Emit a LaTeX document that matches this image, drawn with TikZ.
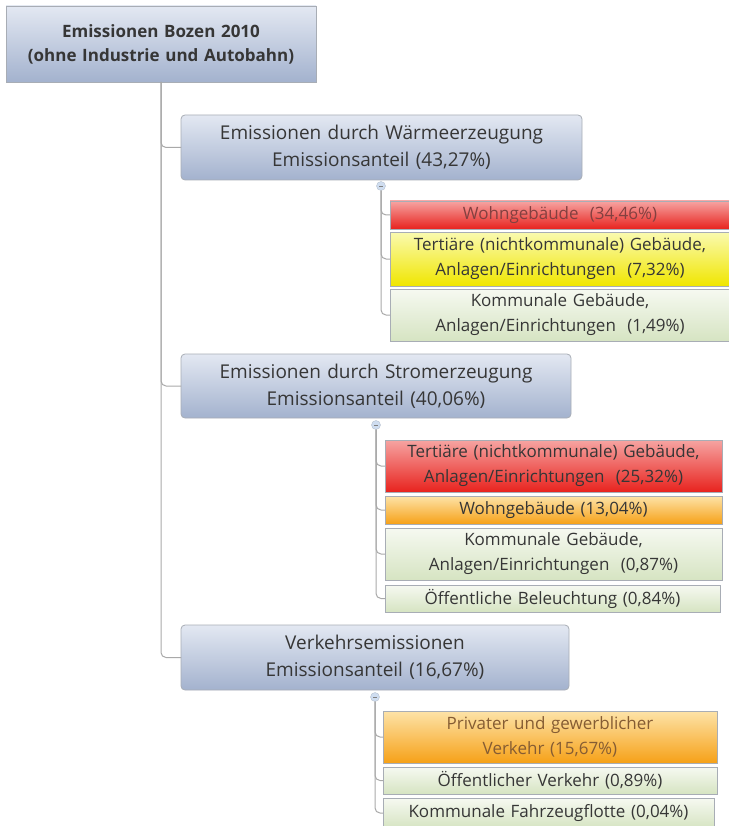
\documentclass[tikz,border=0pt]{standalone}
\usepackage{fontspec}
\setsansfont{Open Sans}
\usepackage{tikz}
\usetikzlibrary{positioning}
\definecolor{txt}{HTML}{363636}
\definecolor{boxline}{HTML}{A8ADB5}
\definecolor{linkgray}{HTML}{A9A9A9}
\definecolor{bluetop}{HTML}{E3E8F2}
\definecolor{bluebot}{HTML}{A3B2CE}
\definecolor{redtop}{HTML}{F6A4A2}
\definecolor{redbot}{HTML}{E8231E}
\definecolor{yeltop}{HTML}{FAFAB0}
\definecolor{yelbot}{HTML}{F0E600}
\definecolor{orgtop}{HTML}{FDE3A8}
\definecolor{orgbot}{HTML}{F6A118}
\definecolor{grntop}{HTML}{F6F9F1}
\definecolor{grnbot}{HTML}{D6E4C2}
\definecolor{foldblue}{HTML}{CFDDF0}
\tikzset{
  treebox/.style = {align=center, inner sep=0pt, outer sep=0pt,
    text=txt, draw=boxline, line width=0.8pt},
  rootbox/.style = {treebox, top color=bluetop, bottom color=bluebot,
    font=\sffamily\bfseries\fontsize{17}{24}\selectfont},
  mainbox/.style = {treebox, rounded corners=4pt, top color=bluetop,
    bottom color=bluebot, font=\sffamily\fontsize{19}{27}\selectfont},
  leaf/.style = {treebox, text width=340pt,
    font=\sffamily\fontsize{17}{25}\selectfont},
  redleaf/.style = {leaf, top color=redtop, bottom color=redbot},
  yelleaf/.style = {leaf, top color=yeltop, bottom color=yelbot},
  orgleaf/.style = {leaf, top color=orgtop, bottom color=orgbot},
  grnleaf/.style = {leaf, top color=grntop, bottom color=grnbot},
  link/.style = {draw=linkgray, line width=1pt, rounded corners=5pt},
  fold/.style = {circle, draw=foldblue!70!gray, fill=foldblue,
    minimum size=9pt, inner sep=0pt,
    path picture={\draw[gray, line width=0.6pt]
      ([xshift=-2pt]path picture bounding box.center) --
      ([xshift=2pt]path picture bounding box.center);}}
}
\begin{document}
\begin{tikzpicture}[x=1pt, y=-1pt]
\useasboundingbox (0,0) rectangle (728,826);
% root
\node [rootbox, anchor=north west, text width=310pt, minimum height=76pt]
  (root) at (6,6) {Emissionen Bozen 2010\\(ohne Industrie und Autobahn)};
\coordinate (trunk) at ([xshift=155pt]root.south west);
% first level
\node [mainbox, anchor=north west, text width=401pt, minimum height=65pt]
  (waerme) at (181,115) {Emissionen durch Wärmeerzeugung\\Emissionsanteil (43,27\%)};
\node [mainbox, anchor=north west, text width=390pt, minimum height=64pt]
  (strom) at (181,354) {Emissionen durch Stromerzeugung\\Emissionsanteil (40,06\%)};
\node [mainbox, anchor=north west, text width=388pt, minimum height=65pt]
  (verkehr) at (181,625) {Verkehrsemissionen\\Emissionsanteil (16,67\%)};
\draw [link] (trunk) |- (waerme.west);
\draw [link] (trunk) |- (strom.west);
\draw [link] (trunk) |- (verkehr.west);
% heat
\node [fold] (wfold) at (381,186) {};
\node [redleaf, anchor=north west, minimum height=28pt, text=red!35!black!75]
  (w1) at (390,201) {Wohngebäude\ \ (34,46\%)};
\node [yelleaf, anchor=north west, minimum height=54pt]
  (w2) at (390,232) {Tertiäre (nichtkommunale) Gebäude,\\Anlagen/Einrichtungen\ \ (7,32\%)};
\node [grnleaf, anchor=north west, minimum height=52pt]
  (w3) at (390,289) {Kommunale Gebäude,\\Anlagen/Einrichtungen\ \ (1,49\%)};
\foreach \n in {w1,w2,w3}
  \draw [link] (wfold.south) |- (\n.west);
% electricity
\node [fold] (sfold) at (376,425) {};
\node [redleaf, anchor=north west, text width=337pt, minimum height=52pt]
  (s1) at (385,440) {Tertiäre (nichtkommunale) Gebäude,\\Anlagen/Einrichtungen\ \ (25,32\%)};
\node [orgleaf, anchor=north west, text width=337pt, minimum height=28pt]
  (s2) at (385,496) {Wohngebäude (13,04\%)};
\node [grnleaf, anchor=north west, text width=337pt, minimum height=52pt]
  (s3) at (385,528) {Kommunale Gebäude,\\Anlagen/Einrichtungen\ \ (0,87\%)};
\node [grnleaf, anchor=north west, text width=335pt, minimum height=27pt]
  (s4) at (385,585) {Öffentliche Beleuchtung (0,84\%)};
\foreach \n in {s1,s2,s3,s4}
  \draw [link] (sfold.south) |- (\n.west);
% traffic
\node [fold] (vfold) at (375,697) {};
\node [orgleaf, anchor=north west, text width=334pt, minimum height=52pt,
  text=orange!40!black!80] (v1) at (383,711) {Privater und gewerblicher\\Verkehr (15,67\%)};
\node [grnleaf, anchor=north west, text width=334pt, minimum height=27pt]
  (v2) at (383,767) {Öffentlicher Verkehr (0,89\%)};
\node [grnleaf, anchor=north west, text width=331pt, minimum height=30pt]
  (v3) at (383,798) {Kommunale Fahrzeugflotte (0,04\%)};
\foreach \n in {v1,v2,v3}
  \draw [link] (vfold.south) |- (\n.west);
\end{tikzpicture}
\end{document}
